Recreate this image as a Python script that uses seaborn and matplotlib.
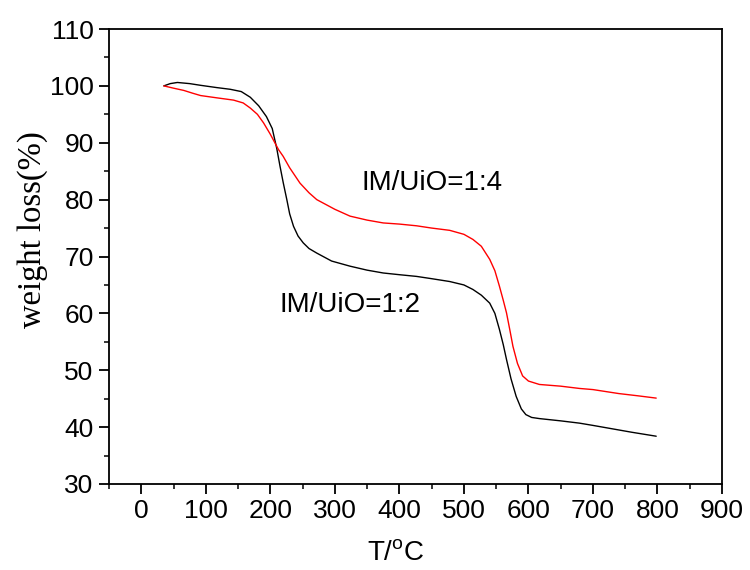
import numpy as np
import pandas as pd
import seaborn as sns
import matplotlib.pyplot as plt

# TGA curves, values
temp_12 = [35, 45, 56, 75, 92, 117, 138, 155, 169, 182, 194, 203, 210, 215,
           220, 225.6, 230, 236, 243, 251, 260, 272, 295, 323.5, 350, 375,
           400, 426.6, 450, 478, 500, 514, 527, 540, 548, 555, 561, 566, 573,
           581, 589, 596, 605, 617, 650, 679, 700, 730, 760, 798]
weight_12 = [100.0, 100.4, 100.6, 100.4, 100.1, 99.7, 99.4, 99.0, 98.0, 96.5,
             94.6, 92.5, 89.0, 85.9, 83.0, 80.0, 77.5, 75.3, 73.6, 72.4, 71.4,
             70.6, 69.2, 68.3, 67.6, 67.1, 66.8, 66.5, 66.1, 65.6, 65.0, 64.2,
             63.2, 61.8, 60.0, 57.2, 54.5, 51.9, 48.5, 45.4, 43.2, 42.2, 41.7,
             41.5, 41.1, 40.7, 40.3, 39.7, 39.1, 38.4]

temp_14 = [35, 50, 66, 80, 92, 117, 143, 158, 169, 180, 189.5, 200, 212.7,
           220, 230, 246, 260, 272, 300, 323.5, 350, 375, 400, 426.6, 450,
           478, 500, 514, 527, 540, 548, 555, 561, 566, 571, 576, 583, 591,
           600, 617, 650, 679, 700, 740, 770, 798]
weight_14 = [100.0, 99.6, 99.2, 98.7, 98.3, 97.9, 97.5, 97.0, 96.1, 95.0,
             93.5, 91.5, 88.8, 87.6, 85.6, 82.9, 81.2, 80.0, 78.3, 77.1, 76.4,
             75.9, 75.7, 75.4, 75.0, 74.6, 73.9, 73.0, 71.8, 69.5, 67.5, 64.8,
             62.3, 60.1, 57.2, 54.2, 51.2, 49.0, 48.1, 47.5, 47.2, 46.8, 46.6,
             45.9, 45.5, 45.1]

labels = ["IM/UiO=1:2", "IM/UiO=1:4"]
x_ticks = list(range(0, 901, 100))
y_ticks = list(range(30, 111, 10))

df = pd.concat([
    pd.DataFrame({"T": temp_12, "w": weight_12, "sample": labels[0]}),
    pd.DataFrame({"T": temp_14, "w": weight_14, "sample": labels[1]}),
])

sns.set_style("ticks")
plt.rcParams["font.family"] = ["Liberation Sans", "DejaVu Sans"]
plt.rcParams["axes.linewidth"] = 1.3
plt.rcParams["text.color"] = "black"
plt.rcParams["axes.labelcolor"] = "black"

fig = plt.figure(figsize=(7.5, 5.7), dpi=100)
ax = fig.add_axes([0.1453, 0.1509, 0.8174, 0.7982])

sns.lineplot(data=df, x="T", y="w", hue="sample", palette=["black", "red"],
             sort=False, estimator=None, linewidth=1.0, legend=False, ax=ax)

ax.set_xlim(-50, 900)
ax.set_ylim(30, 110)
ax.set_xticks(x_ticks)
ax.set_yticks(y_ticks)
ax.set_xticks(np.arange(-50, 900, 100), minor=True)
ax.set_yticks(np.arange(35, 110, 10), minor=True)
ax.tick_params(which="major", length=7, width=1.3, labelsize=19, pad=4,
               colors="black")
ax.tick_params(which="minor", length=3.6, width=1.3)
for s in ax.spines.values():
    s.set_visible(True)
    s.set_color("black")

ax.set_xlabel(r"T/$^\mathregular{o}$C", fontsize=20)
ax.xaxis.set_label_coords(0.467, -0.125)
ax.set_ylabel("weight loss(%)", fontsize=23.5, family="Liberation Serif")
ax.yaxis.set_label_coords(-0.099, 0.56)

ax.text(341, 83, labels[1], fontsize=20, va="center", ha="left")
ax.text(215, 61.5, labels[0], fontsize=20, va="center", ha="left")

fig.savefig("out.png", dpi=100)
